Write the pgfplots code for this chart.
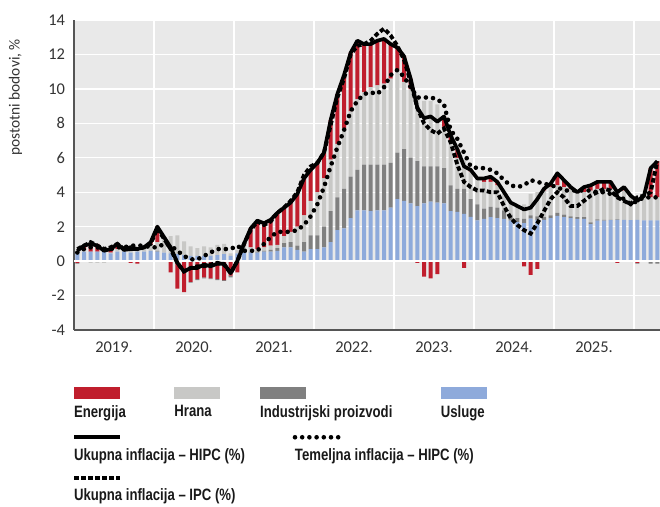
\documentclass[border=0pt]{standalone}
\usepackage{pgfplots}
\usepackage{pgfplotstable}
\pgfplotsset{compat=1.18}
\usepackage{fontspec}
\setmainfont{Carlito}
\newfontfamily\legfont{Liberation Sans}[FakeStretch=0.8]
\definecolor{energ}{HTML}{C01E2D}
\definecolor{hrana}{HTML}{C8C8C6}
\definecolor{indus}{HTML}{808080}
\definecolor{uslug}{HTML}{8EAADB}
\definecolor{bg}{HTML}{E9E9E9}
\definecolor{axgray}{HTML}{555555}
\definecolor{txt}{HTML}{333333}

% positive contributions
\pgfplotstableread{
k S I F E
0 0.50 0 0.05 0
1 0.55 0 0.10 0.25
2 0.55 0 0 0.45
3 0.55 0 0 0.45
4 0.55 0 0 0.15
5 0.45 0 0.05 0.25
6 0.55 0 0.15 0.30
7 0.55 0 0.10 0
8 0.50 0 0.25 0
9 0.55 0 0.20 0
10 0.55 0 0.25 0
11 0.60 0 0.35 0.15
12 0.55 0.05 0.50 0.90
13 0.50 0 0.80 0.10
14 0.45 0 1.00 0
15 0.40 0 1.10 0
16 0.35 0 0.80 0
17 0.30 0 0.55 0
18 0.30 0 0.45 0
19 0.30 0 0.55 0
20 0.30 0 0.50 0
21 0.35 0 0.60 0
22 0.40 0 0.60 0
23 0.30 0 0.15 0
24 0.45 0 0.20 0
25 0.50 0.05 0.35 0.10
26 0.50 0.05 0.25 1.10
27 0.50 0.05 0.15 1.65
28 0.55 0.05 0.20 1.40
29 0.55 0.10 0.25 1.50
30 0.60 0.15 0.20 1.85
31 0.80 0.25 0.40 1.65
32 0.80 0.30 0.60 1.70
33 0.65 0.25 1.10 1.90
34 0.55 0.55 1.55 2.15
35 0.70 0.80 2.00 1.80
36 0.70 0.80 2.50 1.70
37 0.80 1.20 2.80 1.50
38 1.10 1.80 3.00 2.30
39 1.80 1.90 3.10 2.90
40 1.90 2.30 3.50 3.10
41 2.50 2.40 3.80 3.40
42 2.95 2.35 4.10 3.40
43 2.95 2.65 4.20 2.80
44 2.90 2.70 4.50 2.50
45 2.95 2.65 4.60 2.60
46 2.95 2.65 4.70 2.60
47 3.10 2.60 4.90 2.00
48 3.60 2.70 4.80 1.30
49 3.50 3.00 3.90 1.50
50 3.35 2.65 4.00 0.60
51 3.20 2.60 3.60 0
52 3.35 2.15 3.80 0
53 3.45 2.05 3.80 0
54 3.40 2.10 3.60 0
55 3.35 2.05 2.40 0.60
56 2.90 1.50 2.60 0.30
57 2.86 1.34 1.80 0.50
58 2.75 1.45 1.70 0
59 2.57 1.03 1.60 0.10
60 2.37 0.93 1.50 0
61 2.45 0.60 1.55 0.20
62 2.55 0.60 1.45 0.30
63 2.50 0.60 1.30 0.20
64 2.45 0.50 1.05 0
65 2.35 0.35 0.70 0
66 2.27 0.23 0.70 0
67 2.20 0.25 0.85 0
68 2.47 0.19 1.24 0
69 2.40 0.20 1.40 0
70 2.40 0.15 1.55 0.10
71 2.50 0.16 1.64 0.20
72 2.62 0.18 1.60 0.70
73 2.55 0.15 1.60 0.40
74 2.50 0.10 1.60 0.10
75 2.45 0.10 1.45 0
76 2.45 0.10 1.45 0.30
77 2.15 0.10 1.85 0.30
78 2.35 0.07 1.78 0.40
79 2.35 0.05 1.80 0.40
80 2.38 0.02 1.80 0.40
81 2.40 0.02 1.68 0
82 2.40 0 1.70 0.20
83 2.38 0 1.42 0
84 2.40 0 1.20 0
85 2.36 0 1.44 0
86 2.36 0 1.34 1.70
87 2.36 0 1.34 2.10
}\posdata

% negative contributions
\pgfplotstableread{
k E I F S
0 -0.10 -0.05 0 0
1 0 0 0 0
2 0 -0.05 -0.05 0
3 0 -0.05 -0.05 0
4 0 -0.05 -0.05 0
5 0 -0.05 0 0
6 0 0 0 0
7 0 0 0 0
8 -0.10 0 0 0
9 -0.15 0 0 0
10 -0.05 0 0 0
11 0 0 0 0
12 0 0 0 0
13 0 0 0 0
14 -0.65 0 0 0
15 -1.60 0 0 0
16 -1.80 0 0 0
17 -1.20 -0.05 0 0
18 -1.05 -0.05 0 0
19 -0.95 -0.05 0 0
20 -1.00 -0.05 0 0
21 -1.05 -0.05 0 0
22 -1.10 -0.05 0 0
23 -0.85 -0.10 0 0
24 -0.65 0 0 0
25 0 0 0 0
26 0 0 0 0
27 0 0 0 0
28 0 0 0 0
29 0 0 0 0
30 0 0 0 0
31 0 0 0 0
32 0 0 0 0
33 0 0 0 0
34 0 0 0 0
35 0 0 0 0
36 0 0 0 0
37 0 0 0 0
38 0 0 0 0
39 0 0 0 0
40 0 0 0 0
41 0 0 0 0
42 0 0 0 0
43 0 0 0 0
44 0 0 0 0
45 0 0 0 0
46 0 0 0 0
47 0 0 0 0
48 0 0 0 0
49 0 0 0 0
50 0 0 0 0
51 -0.10 0 0 0
52 -0.90 0 0 0
53 -1.00 0 0 0
54 -0.75 0 0 0
55 0 0 0 0
56 0 0 0 0
57 0 0 0 0
58 -0.40 0 0 0
59 0 0 0 0
60 0 0 0 0
61 0 0 0 0
62 0 0 0 0
63 0 0 0 0
64 0 0 0 0
65 0 0 0 0
66 0 0 0 0
67 -0.30 0 0 0
68 -0.80 0 0 0
69 -0.45 0 0 0
70 0 0 0 0
71 0 0 0 0
72 0 0 0 0
73 0 0 0 0
74 0 0 0 0
75 0 0 0 0
76 0 0 0 0
77 0 0 0 0
78 0 0 0 0
79 0 0 0 0
80 0 0 0 0
81 -0.10 0 0 0
82 0 0 0 0
83 0 0 0 0
84 -0.10 -0.05 0 0
85 0 -0.05 0 0
86 0 -0.15 0 0
87 0 -0.15 0 0
}\negdata

% lines: H = HIPC total, C = core HIPC, P = CPI total
\pgfplotstableread{
k H C P
0 0.6 0.5 0.7
1 0.9 0.7 0.9
2 1.0 0.8 1.1
3 0.9 0.8 0.9
4 0.6 0.7 0.7
5 0.7 0.7 0.8
6 1.0 0.8 1.0
7 0.65 0.8 0.7
8 0.7 0.9 0.8
9 0.7 0.9 0.7
10 0.8 0.9 0.8
11 1.1 0.8 1.0
12 2.0 0.8 1.9
13 1.4 1.0 1.3
14 0.8 0.9 0.7
15 -0.1 0.6 -0.1
16 -0.6 0.3 -0.6
17 -0.4 0.1 -0.4
18 -0.4 0.1 -0.3
19 -0.2 0.3 -0.3
20 -0.3 0.5 -0.2
21 -0.15 0.7 -0.1
22 -0.15 0.7 -0.2
23 -0.7 0.7 -0.7
24 0.0 0.9 0.0
25 1.0 0.6 1.0
26 1.9 0.6 1.8
27 2.35 0.6 2.3
28 2.2 1.0 2.1
29 2.4 1.4 2.3
30 2.8 1.7 2.8
31 3.1 1.7 3.1
32 3.4 1.7 3.5
33 3.9 1.8 4.0
34 4.8 2.1 5.0
35 5.3 2.6 5.5
36 5.7 3.3 5.7
37 6.3 4.3 6.3
38 8.2 5.5 7.9
39 9.7 6.6 9.5
40 10.8 7.6 10.6
41 12.1 8.7 12.0
42 12.8 9.3 12.5
43 12.6 9.7 12.6
44 12.6 9.8 12.8
45 12.8 9.7 13.2
46 12.9 10.1 13.5
47 12.6 10.8 13.1
48 12.4 11.1 12.5
49 11.9 10.7 11.7
50 10.6 10.1 10.4
51 8.9 9.5 8.9
52 8.3 9.5 8.0
53 8.4 9.5 7.6
54 8.1 9.4 7.4
55 8.4 9.1 7.7
56 7.3 7.6 6.9
57 6.5 7.1 5.6
58 5.5 6.3 4.6
59 5.3 5.5 4.3
60 4.8 5.4 4.1
61 4.8 5.4 4.1
62 4.9 5.3 4.0
63 4.6 5.1 4.0
64 4.0 4.7 3.2
65 3.4 4.4 2.5
66 3.2 4.3 2.1
67 3.0 4.4 1.8
68 3.1 4.7 1.6
69 3.6 4.6 2.2
70 4.2 4.5 2.9
71 4.5 4.4 3.6
72 5.1 4.3 4.0
73 4.7 4.1 3.7
74 4.3 4.1 3.2
75 4.0 4.1 3.2
76 4.3 4.1 3.5
77 4.4 4.1 3.8
78 4.6 4.0 4.0
79 4.6 4.0 4.2
80 4.6 3.9 4.1
81 4.0 3.8 3.7
82 4.3 3.6 3.5
83 3.8 3.3 3.3
84 3.5 3.5 3.7
85 3.8 3.7 3.8
86 5.4 3.7 4.0
87 5.8 3.7 5.8
}\linedata

\pgfplotsset{
  common/.style={
    at={(0,0)}, anchor=south west,
    scale only axis, width=586bp, height=310bp,
    xmin=-0.5, xmax=87.4, ymin=-4, ymax=14,
  },
  legfontstyle/.style={font=\legfont\fontsize{16.5}{19}\selectfont\bfseries, text=black!90},
  barleg/.style={legend image code/.code={\fill[##1, overlay] (2bp,13bp) rectangle (48bp,25bp);}},
  lineleg/.style={legend image code/.code={\draw[##1, overlay] (2bp,18bp) -- (48bp,18bp);}},
  solidln/.style={black, line width=3.7bp, line join=round},
  dottedln/.style={black, line width=4.6bp, line cap=round, dash pattern=on 0bp off 7.2bp},
  dashedln/.style={black, line width=3.9bp, dash pattern=on 4.5bp off 2.5bp},
}

\begin{document}
\begin{tikzpicture}
\useasboundingbox (-74bp,-177bp) rectangle (586bp,330bp);
% ---- axis 1: frame, grid, positive bars, bar legend
\begin{axis}[common,
  axis background/.style={fill=bg},
  axis x line*=bottom, axis y line*=left,
  axis line style={axgray, line width=1.3bp},
  ytick={-4,-2,...,14},
  xtick={11.5,23.5,...,83.5},
  xticklabels={},
  extra x ticks={5.5,17.5,...,77.5},
  extra x tick labels={2019.,2020.,2021.,2022.,2023.,2024.,2025.},
  extra x tick style={grid=none, tick label style={yshift=-8bp}},
  major tick length=0pt,
  grid=major,
  major grid style={white, line width=1.3bp},
  tick label style={font=\fontsize{16.5}{18}\selectfont, text=txt},
  /pgf/number format/assume math mode=true,
  yticklabel style={xshift=-5.5bp},
  ylabel={postotni bodovi, \%},
  ylabel style={at={(axis description cs:-0.1,0.75)}, anchor=center, font=\fontsize{15.5}{17}\selectfont, text=txt},
  ybar stacked, bar width=0.6,
  reverse legend,
  legend cell align=left,
  legend style={draw=none, fill=none, at={(axis description cs:-0.0034,-0.236)}, anchor=north west,
    inner sep=0pt, outer sep=0pt, legend columns=4, legfontstyle,
    nodes={inner sep=2bp, text depth=0.15em},
    /tikz/every even column/.append style={column sep=44.5bp}},
]
\addplot[fill=uslug, draw=none, barleg] table[x=k, y=S] {\posdata};
\addlegendentry{Usluge}
\addplot[fill=indus, draw=none, barleg] table[x=k, y=I] {\posdata};
\addlegendentry{Industrijski proizvodi}
\addplot[fill=hrana, draw=none, barleg] table[x=k, y=F] {\posdata};
\addlegendentry{Hrana}
\addplot[fill=energ, draw=none, barleg] table[x=k, y=E] {\posdata};
\addlegendentry{Energija}
\end{axis}
% ---- axis 2: negative bars
\begin{axis}[common, hide axis, ybar stacked, bar width=0.6]
\addplot[fill=energ, draw=none, forget plot] table[x=k, y=E] {\negdata};
\addplot[fill=indus, draw=none, forget plot] table[x=k, y=I] {\negdata};
\addplot[fill=hrana, draw=none, forget plot] table[x=k, y=F] {\negdata};
\addplot[fill=uslug, draw=none, forget plot] table[x=k, y=S] {\negdata};
\end{axis}
% ---- axis 3: zero line and inflation lines
\begin{axis}[common, hide axis,
  legend cell align=left,
  legend style={draw=none, fill=none, at={(axis description cs:-0.0034,-0.376)}, anchor=north west,
    inner sep=0pt, outer sep=0pt, legend columns=2, legfontstyle, row sep=23bp,
    nodes={inner sep=2bp, text depth=0.15em},
    /tikz/every even column/.append style={column sep=46bp}},
]
\addplot[white, line width=2bp, forget plot] coordinates {(-0.5,0) (87.4,0)};
\addplot[dashedln, forget plot] table[x=k, y=P] {\linedata};
\addplot[dottedln, forget plot] table[x=k, y=C] {\linedata};
\addplot[solidln, forget plot] table[x=k, y=H] {\linedata};
\addlegendimage{solidln, lineleg}
\addlegendentry{Ukupna inflacija – HIPC (\%)}
\addlegendimage{dottedln, lineleg}
\addlegendentry{Temeljna inflacija – HIPC (\%)}
\addlegendimage{dashedln, lineleg}
\addlegendentry{Ukupna inflacija – IPC (\%)}
\end{axis}
\end{tikzpicture}
\end{document}
